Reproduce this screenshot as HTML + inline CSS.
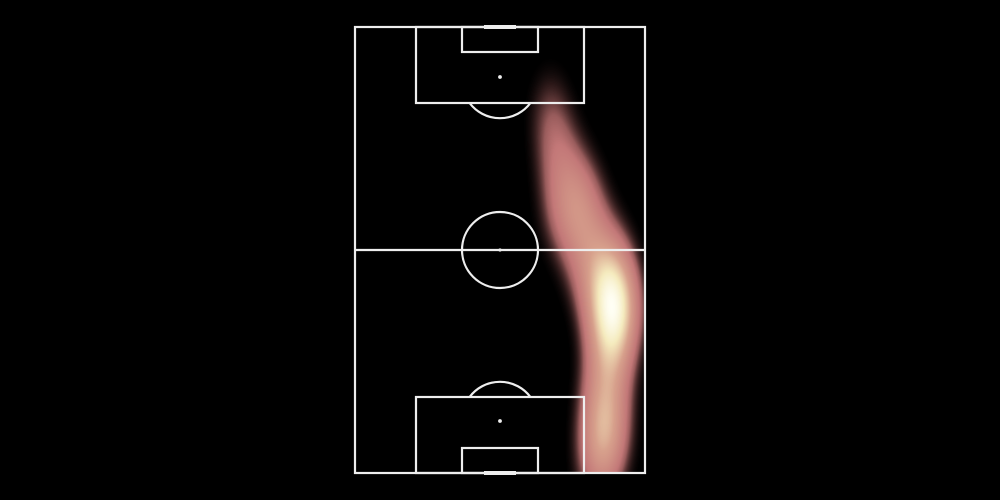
<!DOCTYPE html>
<html><head><meta charset="utf-8"><style>
html,body{margin:0;padding:0;background:#000;width:1000px;height:500px;overflow:hidden}
#wrap{position:relative;width:1000px;height:500px}
canvas,svg{position:absolute;left:0;top:0}
</style></head><body>
<div id="wrap">
<canvas id="heat" width="1000" height="500"></canvas>
<svg width="1000" height="500" fill="none" stroke="#eeeeee" stroke-width="2.2">
<rect x="355" y="27" width="290" height="446"/>
<line x1="355" y1="250" x2="645" y2="250"/>
<circle cx="500" cy="250" r="38"/>
<circle cx="500" cy="250" r="0.5" fill="#eee"/>
<rect x="416" y="27" width="168" height="76"/>
<rect x="462" y="27" width="76" height="25"/>
<line x1="484" y1="27" x2="516" y2="27" stroke-width="4"/>
<circle cx="500" cy="77" r="0.8" fill="#eee"/>
<path d="M469.6 103 A38 38 0 0 0 530.4 103"/>
<rect x="416" y="397" width="168" height="76"/>
<rect x="462" y="448" width="76" height="25"/>
<line x1="484" y1="473" x2="516" y2="473" stroke-width="4"/>
<circle cx="500" cy="421" r="0.8" fill="#eee"/>
<path d="M469.6 397 A38 38 0 0 1 530.4 397"/>
</svg>
</div>
<script>
// event locations in pitch units (x: 0-100 across, y: 0-100 top to bottom)
const eventX = [67,69,75,80,70,78,88,89,90,89,88,87,91,87,85,85,86,83,80,88];
const eventY = [18,28,35,40,42,46,52,58,62,66,70,60,64,76,84,90,96,99,56,88];
const PX0=355, PY0=27, PW=290, PH=446;
function sx(v){return PX0+v/100*PW;}
function sy(v){return PY0+v/100*PH;}
const cv=document.getElementById('heat'), ctx=cv.getContext('2d');
const img=ctx.createImageData(PW,PH);
const sigX=18, sigY=38;
const pts=eventX.map((x,i)=>[sx(x),sy(eventY[i])]);
const dens=new Float32Array(PW*PH); let mx=0;
for(let j=0;j<PH;j++){for(let i=0;i<PW;i++){
  const X=PX0+i, Y=PY0+j; let d=0;
  for(const p of pts){const dx=(X-p[0])/sigX, dy=(Y-p[1])/sigY; d+=Math.exp(-0.5*(dx*dx+dy*dy));}
  dens[j*PW+i]=d; if(d>mx)mx=d;}}
const stops=[[0,[0,0,0]],[0.15,[90,50,50]],[0.35,[195,120,120]],[0.6,[215,160,140]],[0.82,[245,235,190]],[1,[255,255,245]]];
function cmap(t){for(let k=1;k<stops.length;k++){if(t<=stops[k][0]){const a=stops[k-1],b=stops[k];const f=(t-a[0])/(b[0]-a[0]);return a[1].map((c,m)=>c+(b[1][m]-c)*f);}}return stops[stops.length-1][1];}
for(let k=0;k<PW*PH;k++){
  let t=dens[k]/mx; if(t<0.07){img.data[k*4+3]=0;continue;}
  const c=cmap(Math.min(1,t));
  img.data[k*4]=c[0];img.data[k*4+1]=c[1];img.data[k*4+2]=c[2];
  img.data[k*4+3]=Math.min(255,(t-0.07)*255*5);
}
ctx.putImageData(img,PX0,PY0);
</script>
</body></html>
